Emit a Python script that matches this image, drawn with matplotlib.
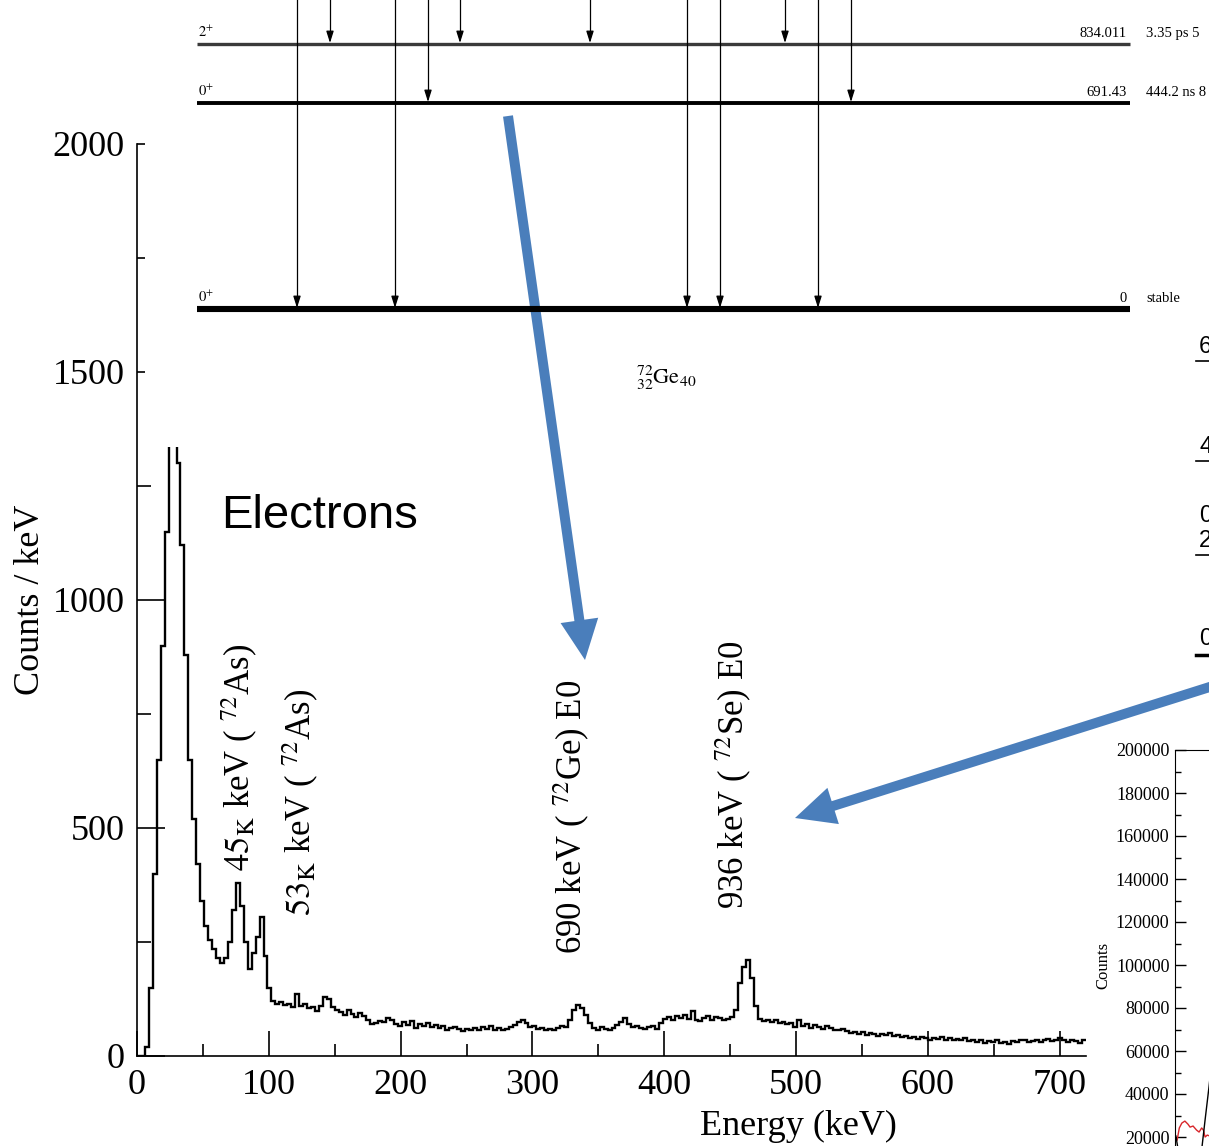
import matplotlib
matplotlib.use("Agg")
import matplotlib.pyplot as plt
import numpy as np
from matplotlib.patches import FancyArrow, Rectangle
from matplotlib.ticker import MultipleLocator

plt.rcParams["font.family"] = ["Liberation Serif", "DejaVu Serif"]
plt.rcParams["mathtext.fontset"] = "stix"

# electron spectrum, counts / keV in 3 keV bins, 0 - 720 keV
bin_width = 3
counts = [
    0, 0, 20, 150, 400, 650, 900, 1150, 1900, 2600,
    1300, 1120, 880, 650, 520, 420, 340, 285, 255, 235,
    215, 205, 215, 250, 320, 380, 330, 250, 190, 225,
    260, 305, 220, 150, 120, 115, 118, 112, 115, 108,
    135, 110, 115, 105, 108, 98, 110, 130, 125, 108,
    100, 96, 90, 100, 92, 86, 95, 88, 80, 70,
    72, 76, 74, 84, 78, 70, 66, 74, 68, 76,
    62, 70, 66, 72, 64, 68, 62, 66, 58, 62,
    64, 60, 55, 60, 58, 62, 56, 64, 60, 66,
    58, 62, 56, 60, 64, 68, 74, 80, 72, 64,
    66, 60, 62, 56, 60, 58, 62, 66, 64, 80,
    100, 112, 106, 90, 72, 62, 58, 64, 60, 56,
    62, 68, 74, 84, 70, 64, 66, 62, 60, 64,
    66, 60, 72, 82, 86, 80, 88, 84, 90, 82,
    98, 80, 76, 84, 88, 80, 86, 84, 78, 82,
    86, 100, 160, 195, 210, 170, 110, 82, 76, 80,
    74, 78, 72, 74, 70, 72, 64, 78, 66, 70,
    62, 68, 64, 60, 66, 62, 58, 56, 60, 54,
    50, 52, 48, 52, 46, 50, 48, 44, 48, 46,
    50, 44, 46, 42, 44, 40, 42, 38, 42, 40,
    36, 40, 38, 42, 36, 40, 34, 38, 36, 40,
    32, 34, 30, 34, 28, 32, 30, 34, 28, 30,
    26, 32, 30, 34, 36, 30, 32, 36, 30, 34,
    38, 32, 36, 40, 34, 30, 36, 32, 28, 34,
]
edges = np.arange(len(counts) + 1) * bin_width

peak_labels = [
    r"$45_{\mathrm{K}}$ keV ( $^{72}$As)",
    r"$53_{\mathrm{K}}$ keV ( $^{72}$As)",
    r"690 keV ( $^{72}$Ge) E0",
    r"936 keV ( $^{72}$Se) E0",
]
peak_label_xy = [(78, 655), (124, 557), (330, 524), (453, 616)]

# 72Ge levels
level_spin = [r"$2^{+}$", r"$0^{+}$", r"$0^{+}$"]
level_energy = ["834.011", "691.43", "0"]
level_halflife = ["3.35 ps 5", "444.2 ns 8", "stable"]
# gamma rays: column in the scheme and the level they end on
gamma_col = [297, 395, 687, 720, 818, 330, 460, 590, 785, 428, 851]
gamma_to = [2, 2, 2, 2, 2, 0, 0, 0, 0, 1, 1]

# neighbouring scheme, spins only partly visible
side_spins = ["6", "4", "0", "2", "0"]

# gamma spectrum inset
inset_red_x = [0.5, 1.0, 1.6, 2.3, 3.0, 3.5, 4.2, 5.0, 5.6, 6.2, 6.6, 7.0, 7.5, 8.0]
inset_red = [18600, 24200, 26500, 27400, 26000, 24600, 25100, 23250, 22300,
             24200, 23250, 20000, 20900, 20500]
inset_black_x = [0.2, 0.9, 2.0, 4.0, 6.0, 6.3, 7.0, 7.9, 8.6]
inset_black = [20500, 12000, 6000, 5000, 8000, 15800, 28000, 43200, 56000]

W, H = 1209, 1146
fig = plt.figure(figsize=(W / 100, H / 100), dpi=100)


def px_box(x0, y0, x1, y1):
    return [x0 / W, (H - y1) / H, (x1 - x0) / W, (y1 - y0) / H]


# --- electron spectrum ---
ax = fig.add_axes(px_box(137, 144, 1086, 1056))
st = ax.stairs(counts, edges, baseline=None, color="black", lw=1.7)
st.set_clip_path(Rectangle((0, 0), 720, 1335, transform=ax.transData))
ax.set_xlim(0, 720)
ax.set_ylim(0, 2000)
ax.spines[["top", "right"]].set_visible(False)
for s in ("left", "bottom"):
    ax.spines[s].set_linewidth(1.2)
ax.xaxis.set_major_locator(MultipleLocator(100))
ax.xaxis.set_minor_locator(MultipleLocator(50))
ax.set_yticks([0, 500, 1000, 1500, 2000])
ax.set_yticks([250, 750, 1250, 1750], minor=True)
ax.tick_params(which="both", direction="in", width=1.2, labelsize=26)
ax.tick_params(axis="x", which="major", length=18, pad=9)
ax.tick_params(axis="x", which="minor", length=9)
ax.tick_params(axis="y", which="major", length=20, pad=9)
ax.tick_params(axis="y", which="minor", length=10)
# the upper part of the y axis carries short ticks only
for t, v in zip(ax.yaxis.get_major_ticks(), ax.get_yticks()):
    if v >= 1500:
        t.tick1line.set_markersize(6)
for t, v in zip(ax.yaxis.get_minor_ticks(), ax.get_yticks(minor=True)):
    if v >= 1500:
        t.tick1line.set_markersize(6)
ax.set_xlabel("Energy (keV)", fontsize=26, x=0.697, labelpad=6)
ax.set_ylabel("Counts / keV", fontsize=26, labelpad=4)
ax.patch.set_alpha(0)

for lab, (x, y) in zip(peak_labels, peak_label_xy):
    ax.text(x, y, lab, rotation=90, ha="center", va="center", fontsize=25)

ax.text(64, 1184, "Electrons", family="Liberation Sans", fontsize=34,
        ha="left", va="center")

# --- gamma spectrum inset ---
ax2 = fig.add_axes(px_box(1175, 750, 1605, 1180))
ax2.plot(inset_red_x, inset_red, color="#d8262b", lw=1.0)
ax2.plot(inset_black_x, inset_black, color="black", lw=1.0)
ax2.set_xlim(0, 100)
ax2.set_ylim(0, 200000)
ax2.set_xticks([])
ax2.yaxis.set_minor_locator(MultipleLocator(10000))
ax2.set_yticks(np.arange(20000, 200001, 20000))
ax2.tick_params(which="both", direction="in", width=1.0, labelsize=13, pad=4)
ax2.tick_params(which="major", length=8)
ax2.tick_params(which="minor", length=4)
ax2.set_ylabel("Counts", fontsize=12, labelpad=3)

# --- overlay in pixel units: level scheme and arrows ---
ov = fig.add_axes([0, 0, 1, 1], zorder=5)
ov.set_xlim(0, W)
ov.set_ylim(H, 0)
ov.axis("off")
ov.patch.set_alpha(0)

small = dict(family="Liberation Serif", fontsize=10.5)
level_y = [44, 103, 309]
level_lw = [2.4, 2.8, 4.4]
level_color = ["#3a3a3a", "black", "black"]
for y, lw, c, sp, en, hl in zip(level_y, level_lw, level_color,
                                level_spin, level_energy, level_halflife):
    ov.plot([197, 1130], [y, y], color=c, lw=lw, solid_capstyle="butt")
    ov.text(198, y - 4, sp, ha="left", va="bottom", **small)
    ov.text(1127, y - 4, en, ha="right", va="bottom", **small)
    ov.text(1146, y - 11, hl, ha="left", va="center", **small)

for col, lv in zip(gamma_col, gamma_to):
    ov.plot([col, col], [0, level_y[lv] - 10], color="black", lw=0.9)
    ov.annotate("", xy=(col, level_y[lv] - 1), xytext=(col, level_y[lv] - 12),
                arrowprops=dict(arrowstyle="-|>,head_length=0.7,head_width=0.22",
                                color="black", lw=0.9, shrinkA=0, shrinkB=0))

ov.text(636, 378, r"${}^{72}_{32}\mathrm{Ge}_{40}$", fontsize=16,
        ha="left", va="center")

side_y = [358, 458, 527, 552, 650]
for s, y in zip(side_spins, side_y):
    ov.text(1199, y, s, family="Liberation Sans", fontsize=17,
            ha="left", va="bottom")
for y, lw in zip([361, 461, 555, 655], [1.2, 1.2, 1.2, 2.5]):
    ov.plot([1196, 1215], [y, y], color="black", lw=lw)

blue = "#4a7ebb"
ov.add_patch(FancyArrow(508, 116, 77, 544, width=10, head_width=38,
                        head_length=40, length_includes_head=True,
                        color=blue, lw=0))
ov.add_patch(FancyArrow(1235, 679, -440, 139, width=10, head_width=38,
                        head_length=40, length_includes_head=True,
                        color=blue, lw=0))

fig.savefig("out.png", dpi=100)
